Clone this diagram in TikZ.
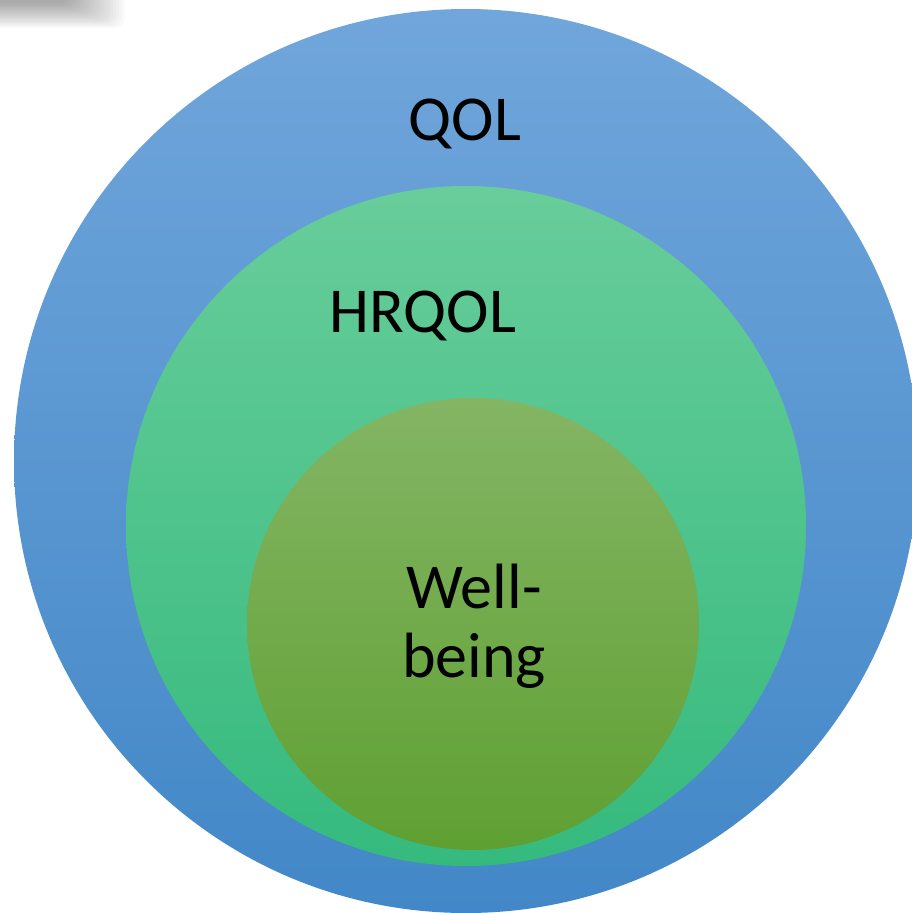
\documentclass[tikz,border=0pt]{standalone}
\usepackage{fontspec}
\setmainfont{Carlito}
\definecolor{blueTop}{HTML}{70A6DB}
\definecolor{blueBot}{HTML}{4287C7}
\definecolor{greenTop}{HTML}{68CD9A}
\definecolor{greenBot}{HTML}{35BA7E}
\definecolor{oliveTop}{HTML}{84B564}
\definecolor{oliveBot}{HTML}{5FA032}
\tikzset{
  lbl/.style={font=\fontsize{64}{69}\selectfont, text=black, align=center, inner sep=0pt}
}
\begin{document}
\begin{tikzpicture}[x=1pt,y=-1pt]
\useasboundingbox (0,0) rectangle (912,913);
% blurred shadow top-left
\foreach \i in {0,...,19}{
  \fill[black, opacity=0.02, rounded corners=10pt] (-40,-40) rectangle ({125-3*\i},{28-1.3*\i});
}
% circles
\shade[top color=blueTop, bottom color=blueBot] (466,461) circle (452);
\shade[top color=greenTop, bottom color=greenBot] (466,526) circle (340);
\shade[top color=oliveTop, bottom color=oliveBot] (473,624) circle (226);
% labels
\node[lbl] (qol) at (465,124) {QOL};
\node[lbl] (hrqol) at (423,316) {HRQOL};
\node[lbl, anchor=base] (well) at (474,608) {Well-};
\node[lbl, anchor=base] (being) at (474,677) {being};
\end{tikzpicture}
\end{document}
